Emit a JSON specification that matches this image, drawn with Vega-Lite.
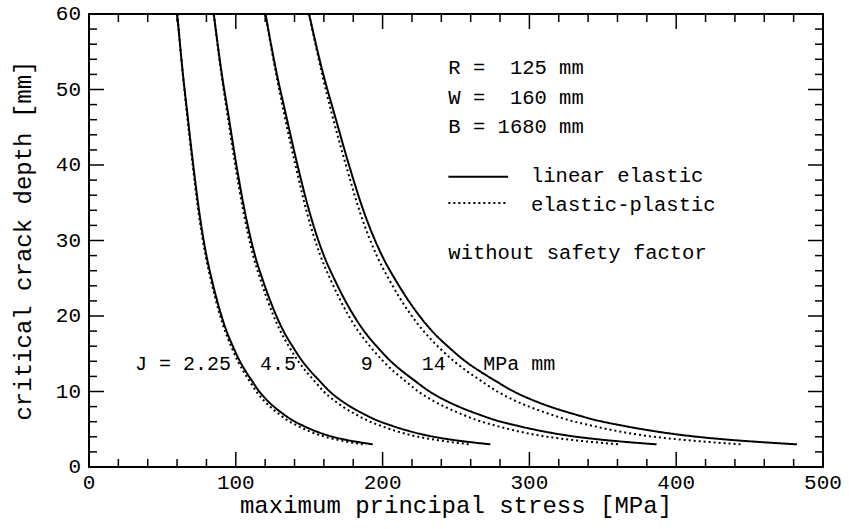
{
"$schema":"https://vega.github.io/schema/vega-lite/v6.json",
"width":734,"height":453,
"autosize":{"type":"none"},
"padding":{"left":89,"top":14,"right":26,"bottom":62},
"background":"white",
"config":{"view":{"stroke":"black","strokeWidth":2}},
"datasets":{
"xmajor":[{"v":0},{"v":100},{"v":200},{"v":300},{"v":400},{"v":500}],
"xminor":[{"v":20},{"v":40},{"v":60},{"v":80},{"v":120},{"v":140},{"v":160},{"v":180},{"v":220},{"v":240},{"v":260},{"v":280},{"v":320},{"v":340},{"v":360},{"v":380},{"v":420},{"v":440},{"v":460},{"v":480}],
"ymajor":[{"v":0},{"v":10},{"v":20},{"v":30},{"v":40},{"v":50},{"v":60}],
"yminor":[{"v":2},{"v":4},{"v":6},{"v":8},{"v":12},{"v":14},{"v":16},{"v":18},{"v":22},{"v":24},{"v":26},{"v":28},{"v":32},{"v":34},{"v":36},{"v":38},{"v":42},{"v":44},{"v":46},{"v":48},{"v":52},{"v":54},{"v":56},{"v":58}],
"curves":[
{"J":"2.25","model":"linear","stress":60.1,"depth":60},{"J":"2.25","model":"linear","stress":64,"depth":52},{"J":"2.25","model":"linear","stress":67,"depth":46.8},{"J":"2.25","model":"linear","stress":71,"depth":40},{"J":"2.25","model":"linear","stress":75.3,"depth":33.5},{"J":"2.25","model":"linear","stress":80,"depth":28},{"J":"2.25","model":"linear","stress":83.8,"depth":24.7},{"J":"2.25","model":"linear","stress":89.8,"depth":20.3},{"J":"2.25","model":"linear","stress":93.7,"depth":18},{"J":"2.25","model":"linear","stress":98.2,"depth":15.9},{"J":"2.25","model":"linear","stress":102.8,"depth":14},{"J":"2.25","model":"linear","stress":107,"depth":12.6},{"J":"2.25","model":"linear","stress":110.7,"depth":11.5},{"J":"2.25","model":"linear","stress":116,"depth":10},{"J":"2.25","model":"linear","stress":122,"depth":8.7},{"J":"2.25","model":"linear","stress":126.5,"depth":7.9},{"J":"2.25","model":"linear","stress":132.5,"depth":7},{"J":"2.25","model":"linear","stress":138.5,"depth":6.2},{"J":"2.25","model":"linear","stress":145.5,"depth":5.5},{"J":"2.25","model":"linear","stress":155,"depth":4.7},{"J":"2.25","model":"linear","stress":162.5,"depth":4.2},{"J":"2.25","model":"linear","stress":175,"depth":3.6},{"J":"2.25","model":"linear","stress":183.5,"depth":3.3},{"J":"2.25","model":"linear","stress":193.3,"depth":3.0},
{"J":"2.25","model":"plastic","stress":60.1,"depth":60},{"J":"2.25","model":"plastic","stress":63.9,"depth":52},{"J":"2.25","model":"plastic","stress":66.7,"depth":46.8},{"J":"2.25","model":"plastic","stress":70.6,"depth":40},{"J":"2.25","model":"plastic","stress":74.8,"depth":33.5},{"J":"2.25","model":"plastic","stress":79.4,"depth":28},{"J":"2.25","model":"plastic","stress":83.1,"depth":24.7},{"J":"2.25","model":"plastic","stress":88.9,"depth":20.3},{"J":"2.25","model":"plastic","stress":92.7,"depth":18},{"J":"2.25","model":"plastic","stress":97,"depth":15.9},{"J":"2.25","model":"plastic","stress":101.4,"depth":14},{"J":"2.25","model":"plastic","stress":105.4,"depth":12.6},{"J":"2.25","model":"plastic","stress":109,"depth":11.5},{"J":"2.25","model":"plastic","stress":114,"depth":10},{"J":"2.25","model":"plastic","stress":119.6,"depth":8.7},{"J":"2.25","model":"plastic","stress":123.9,"depth":7.9},{"J":"2.25","model":"plastic","stress":129.5,"depth":7},{"J":"2.25","model":"plastic","stress":135.1,"depth":6.2},{"J":"2.25","model":"plastic","stress":141.7,"depth":5.5},{"J":"2.25","model":"plastic","stress":150.5,"depth":4.7},{"J":"2.25","model":"plastic","stress":157.5,"depth":4.2},{"J":"2.25","model":"plastic","stress":169.3,"depth":3.6},{"J":"2.25","model":"plastic","stress":177.2,"depth":3.3},{"J":"2.25","model":"plastic","stress":186.5,"depth":3.0},
{"J":"4.5","model":"linear","stress":85,"depth":60},{"J":"4.5","model":"linear","stress":90.5,"depth":52},{"J":"4.5","model":"linear","stress":94.8,"depth":46.8},{"J":"4.5","model":"linear","stress":100.4,"depth":40},{"J":"4.5","model":"linear","stress":106.5,"depth":33.5},{"J":"4.5","model":"linear","stress":113.1,"depth":28},{"J":"4.5","model":"linear","stress":118.5,"depth":24.7},{"J":"4.5","model":"linear","stress":127,"depth":20.3},{"J":"4.5","model":"linear","stress":132.5,"depth":18},{"J":"4.5","model":"linear","stress":138.9,"depth":15.9},{"J":"4.5","model":"linear","stress":145.4,"depth":14},{"J":"4.5","model":"linear","stress":151.3,"depth":12.6},{"J":"4.5","model":"linear","stress":156.6,"depth":11.5},{"J":"4.5","model":"linear","stress":164,"depth":10},{"J":"4.5","model":"linear","stress":172.5,"depth":8.7},{"J":"4.5","model":"linear","stress":178.9,"depth":7.9},{"J":"4.5","model":"linear","stress":187.4,"depth":7},{"J":"4.5","model":"linear","stress":195.9,"depth":6.2},{"J":"4.5","model":"linear","stress":205.8,"depth":5.5},{"J":"4.5","model":"linear","stress":219.2,"depth":4.7},{"J":"4.5","model":"linear","stress":229.8,"depth":4.2},{"J":"4.5","model":"linear","stress":247.5,"depth":3.6},{"J":"4.5","model":"linear","stress":259.5,"depth":3.3},{"J":"4.5","model":"linear","stress":273.4,"depth":3.0},
{"J":"4.5","model":"plastic","stress":85,"depth":60},{"J":"4.5","model":"plastic","stress":90.2,"depth":52},{"J":"4.5","model":"plastic","stress":94.2,"depth":46.8},{"J":"4.5","model":"plastic","stress":99.6,"depth":40},{"J":"4.5","model":"plastic","stress":105.5,"depth":33.5},{"J":"4.5","model":"plastic","stress":111.8,"depth":28},{"J":"4.5","model":"plastic","stress":117,"depth":24.7},{"J":"4.5","model":"plastic","stress":125.1,"depth":20.3},{"J":"4.5","model":"plastic","stress":130.4,"depth":18},{"J":"4.5","model":"plastic","stress":136.4,"depth":15.9},{"J":"4.5","model":"plastic","stress":142.6,"depth":14},{"J":"4.5","model":"plastic","stress":148.1,"depth":12.6},{"J":"4.5","model":"plastic","stress":153.1,"depth":11.5},{"J":"4.5","model":"plastic","stress":159.9,"depth":10},{"J":"4.5","model":"plastic","stress":167.8,"depth":8.7},{"J":"4.5","model":"plastic","stress":173.6,"depth":7.9},{"J":"4.5","model":"plastic","stress":181.4,"depth":7},{"J":"4.5","model":"plastic","stress":189.1,"depth":6.2},{"J":"4.5","model":"plastic","stress":198.2,"depth":5.5},{"J":"4.5","model":"plastic","stress":210.1,"depth":4.7},{"J":"4.5","model":"plastic","stress":219.7,"depth":4.2},{"J":"4.5","model":"plastic","stress":235.9,"depth":3.6},{"J":"4.5","model":"plastic","stress":246.9,"depth":3.3},{"J":"4.5","model":"plastic","stress":259.8,"depth":3.0},
{"J":"9","model":"linear","stress":120.2,"depth":60},{"J":"9","model":"linear","stress":128,"depth":52},{"J":"9","model":"linear","stress":134,"depth":46.8},{"J":"9","model":"linear","stress":142,"depth":40},{"J":"9","model":"linear","stress":150.6,"depth":33.5},{"J":"9","model":"linear","stress":160,"depth":28},{"J":"9","model":"linear","stress":167.6,"depth":24.7},{"J":"9","model":"linear","stress":179.6,"depth":20.3},{"J":"9","model":"linear","stress":187.4,"depth":18},{"J":"9","model":"linear","stress":196.4,"depth":15.9},{"J":"9","model":"linear","stress":205.6,"depth":14},{"J":"9","model":"linear","stress":214,"depth":12.6},{"J":"9","model":"linear","stress":221.4,"depth":11.5},{"J":"9","model":"linear","stress":232,"depth":10},{"J":"9","model":"linear","stress":244,"depth":8.7},{"J":"9","model":"linear","stress":253,"depth":7.9},{"J":"9","model":"linear","stress":265,"depth":7},{"J":"9","model":"linear","stress":277,"depth":6.2},{"J":"9","model":"linear","stress":291,"depth":5.5},{"J":"9","model":"linear","stress":310,"depth":4.7},{"J":"9","model":"linear","stress":325,"depth":4.2},{"J":"9","model":"linear","stress":350,"depth":3.6},{"J":"9","model":"linear","stress":367,"depth":3.3},{"J":"9","model":"linear","stress":386.6,"depth":3.0},
{"J":"9","model":"plastic","stress":120.2,"depth":60},{"J":"9","model":"plastic","stress":127.5,"depth":52},{"J":"9","model":"plastic","stress":132.9,"depth":46.8},{"J":"9","model":"plastic","stress":140.6,"depth":40},{"J":"9","model":"plastic","stress":148.7,"depth":33.5},{"J":"9","model":"plastic","stress":157.6,"depth":28},{"J":"9","model":"plastic","stress":164.8,"depth":24.7},{"J":"9","model":"plastic","stress":176.1,"depth":20.3},{"J":"9","model":"plastic","stress":183.4,"depth":18},{"J":"9","model":"plastic","stress":191.8,"depth":15.9},{"J":"9","model":"plastic","stress":200.4,"depth":14},{"J":"9","model":"plastic","stress":208,"depth":12.6},{"J":"9","model":"plastic","stress":214.8,"depth":11.5},{"J":"9","model":"plastic","stress":224.3,"depth":10},{"J":"9","model":"plastic","stress":235.1,"depth":8.7},{"J":"9","model":"plastic","stress":243.2,"depth":7.9},{"J":"9","model":"plastic","stress":253.8,"depth":7},{"J":"9","model":"plastic","stress":264.4,"depth":6.2},{"J":"9","model":"plastic","stress":276.7,"depth":5.5},{"J":"9","model":"plastic","stress":293,"depth":4.7},{"J":"9","model":"plastic","stress":306,"depth":4.2},{"J":"9","model":"plastic","stress":328.4,"depth":3.6},{"J":"9","model":"plastic","stress":343.4,"depth":3.3},{"J":"9","model":"plastic","stress":361.1,"depth":3.0},
{"J":"14","model":"linear","stress":149.9,"depth":60},{"J":"14","model":"linear","stress":159.6,"depth":52},{"J":"14","model":"linear","stress":167.1,"depth":46.8},{"J":"14","model":"linear","stress":177.1,"depth":40},{"J":"14","model":"linear","stress":187.8,"depth":33.5},{"J":"14","model":"linear","stress":199.6,"depth":28},{"J":"14","model":"linear","stress":209,"depth":24.7},{"J":"14","model":"linear","stress":224,"depth":20.3},{"J":"14","model":"linear","stress":233.7,"depth":18},{"J":"14","model":"linear","stress":244.9,"depth":15.9},{"J":"14","model":"linear","stress":256.4,"depth":14},{"J":"14","model":"linear","stress":266.9,"depth":12.6},{"J":"14","model":"linear","stress":276.1,"depth":11.5},{"J":"14","model":"linear","stress":289.4,"depth":10},{"J":"14","model":"linear","stress":304.3,"depth":8.7},{"J":"14","model":"linear","stress":315.5,"depth":7.9},{"J":"14","model":"linear","stress":330.5,"depth":7},{"J":"14","model":"linear","stress":345.5,"depth":6.2},{"J":"14","model":"linear","stress":362.9,"depth":5.5},{"J":"14","model":"linear","stress":386.6,"depth":4.7},{"J":"14","model":"linear","stress":405.3,"depth":4.2},{"J":"14","model":"linear","stress":436.5,"depth":3.6},{"J":"14","model":"linear","stress":457.7,"depth":3.3},{"J":"14","model":"linear","stress":482.2,"depth":3.0},
{"J":"14","model":"plastic","stress":149.9,"depth":60},{"J":"14","model":"plastic","stress":158.8,"depth":52},{"J":"14","model":"plastic","stress":165.4,"depth":46.8},{"J":"14","model":"plastic","stress":175,"depth":40},{"J":"14","model":"plastic","stress":185,"depth":33.5},{"J":"14","model":"plastic","stress":196,"depth":28},{"J":"14","model":"plastic","stress":204.8,"depth":24.7},{"J":"14","model":"plastic","stress":218.8,"depth":20.3},{"J":"14","model":"plastic","stress":227.9,"depth":18},{"J":"14","model":"plastic","stress":238,"depth":15.9},{"J":"14","model":"plastic","stress":248.7,"depth":14},{"J":"14","model":"plastic","stress":258.1,"depth":12.6},{"J":"14","model":"plastic","stress":266.4,"depth":11.5},{"J":"14","model":"plastic","stress":278.1,"depth":10},{"J":"14","model":"plastic","stress":291.2,"depth":8.7},{"J":"14","model":"plastic","stress":301,"depth":7.9},{"J":"14","model":"plastic","stress":314,"depth":7},{"J":"14","model":"plastic","stress":326.9,"depth":6.2},{"J":"14","model":"plastic","stress":341.9,"depth":5.5},{"J":"14","model":"plastic","stress":361.5,"depth":4.7},{"J":"14","model":"plastic","stress":377.3,"depth":4.2},{"J":"14","model":"plastic","stress":404.6,"depth":3.6},{"J":"14","model":"plastic","stress":422.9,"depth":3.3},{"J":"14","model":"plastic","stress":444.6,"depth":3.0}
]},
"layer":[
{"data":{"name":"curves"},
 "mark":{"type":"line","interpolate":"monotone","strokeWidth":2,"color":"black"},
 "encoding":{
  "x":{"field":"stress","type":"quantitative","scale":{"domain":[0,500],"nice":false,"zero":false},"axis":null},
  "y":{"field":"depth","type":"quantitative","scale":{"domain":[0,60],"nice":false},"axis":null},
  "detail":{"field":"J","type":"nominal"},
  "strokeDash":{"field":"model","type":"nominal","scale":{"domain":["linear","plastic"],"range":[[1,0],[2,3]]},"legend":null}
 }},
{"data":{"name":"xmajor"},"mark":{"type":"rule","strokeWidth":1.5,"color":"black"},
 "encoding":{"x":{"field":"v","type":"quantitative","axis":null},"y":{"datum":0,"type":"quantitative","axis":null},"y2":{"datum":1.987}}},
{"data":{"name":"xmajor"},"mark":{"type":"rule","strokeWidth":1.5,"color":"black"},
 "encoding":{"x":{"field":"v","type":"quantitative","axis":null},"y":{"datum":60,"type":"quantitative","axis":null},"y2":{"datum":58.013}}},
{"data":{"name":"xminor"},"mark":{"type":"rule","strokeWidth":1.5,"color":"black"},
 "encoding":{"x":{"field":"v","type":"quantitative","axis":null},"y":{"datum":0,"type":"quantitative","axis":null},"y2":{"datum":1.06}}},
{"data":{"name":"xminor"},"mark":{"type":"rule","strokeWidth":1.5,"color":"black"},
 "encoding":{"x":{"field":"v","type":"quantitative","axis":null},"y":{"datum":60,"type":"quantitative","axis":null},"y2":{"datum":58.94}}},
{"data":{"name":"ymajor"},"mark":{"type":"rule","strokeWidth":1.5,"color":"black"},
 "encoding":{"y":{"field":"v","type":"quantitative","axis":null},"x":{"datum":0,"type":"quantitative","axis":null},"x2":{"datum":10.22}}},
{"data":{"name":"ymajor"},"mark":{"type":"rule","strokeWidth":1.5,"color":"black"},
 "encoding":{"y":{"field":"v","type":"quantitative","axis":null},"x":{"datum":500,"type":"quantitative","axis":null},"x2":{"datum":489.78}}},
{"data":{"name":"yminor"},"mark":{"type":"rule","strokeWidth":1.5,"color":"black"},
 "encoding":{"y":{"field":"v","type":"quantitative","axis":null},"x":{"datum":0,"type":"quantitative","axis":null},"x2":{"datum":5.45}}},
{"data":{"name":"yminor"},"mark":{"type":"rule","strokeWidth":1.5,"color":"black"},
 "encoding":{"y":{"field":"v","type":"quantitative","axis":null},"x":{"datum":500,"type":"quantitative","axis":null},"x2":{"datum":494.55}}},
{"data":{"name":"xmajor"},
 "mark":{"type":"text","align":"center","baseline":"top","dy":5,"font":"Liberation Mono","fontSize":21,"color":"black"},
 "encoding":{"x":{"field":"v","type":"quantitative","axis":null},"y":{"datum":0,"type":"quantitative","axis":null},"text":{"field":"v","type":"quantitative","format":"d"}}},
{"data":{"name":"ymajor"},
 "mark":{"type":"text","align":"right","baseline":"middle","dx":-8,"font":"Liberation Mono","fontSize":21,"color":"black"},
 "encoding":{"y":{"field":"v","type":"quantitative","axis":null},"x":{"datum":0,"type":"quantitative","axis":null},"text":{"field":"v","type":"quantitative","format":"d"}}},
{"data":{"values":[{}]},
 "mark":{"type":"text","align":"center","baseline":"alphabetic","dy":46,"font":"Liberation Mono","fontSize":24,"color":"black"},
 "encoding":{"x":{"datum":250,"type":"quantitative","axis":null},"y":{"datum":0,"type":"quantitative","axis":null},"text":{"value":"maximum principal stress [MPa]"}}},
{"data":{"values":[{}]},
 "mark":{"type":"text","align":"center","baseline":"alphabetic","angle":270,"dy":-58,"font":"Liberation Mono","fontSize":24,"color":"black"},
 "encoding":{"x":{"datum":0,"type":"quantitative","axis":null},"y":{"datum":30,"type":"quantitative","axis":null},"text":{"value":"critical crack depth [mm]"}}},
{"data":{"values":[{}]},"mark":{"type":"text","align":"left","baseline":"middle","font":"Liberation Mono","fontSize":20.5,"color":"black"},
 "encoding":{"x":{"datum":244.8,"type":"quantitative","axis":null},"y":{"datum":52.85,"type":"quantitative","axis":null},"text":{"value":"R =\u00a0\u00a0125 mm"}}},
{"data":{"values":[{}]},"mark":{"type":"text","align":"left","baseline":"middle","font":"Liberation Mono","fontSize":20.5,"color":"black"},
 "encoding":{"x":{"datum":244.8,"type":"quantitative","axis":null},"y":{"datum":48.9,"type":"quantitative","axis":null},"text":{"value":"W =\u00a0\u00a0160 mm"}}},
{"data":{"values":[{}]},"mark":{"type":"text","align":"left","baseline":"middle","font":"Liberation Mono","fontSize":20.5,"color":"black"},
 "encoding":{"x":{"datum":244.8,"type":"quantitative","axis":null},"y":{"datum":45.0,"type":"quantitative","axis":null},"text":{"value":"B = 1680 mm"}}},
{"data":{"values":[{}]},"mark":{"type":"text","align":"left","baseline":"middle","font":"Liberation Mono","fontSize":20.5,"color":"black"},
 "encoding":{"x":{"datum":301.1,"type":"quantitative","axis":null},"y":{"datum":38.5,"type":"quantitative","axis":null},"text":{"value":"linear elastic"}}},
{"data":{"values":[{}]},"mark":{"type":"text","align":"left","baseline":"middle","font":"Liberation Mono","fontSize":20.5,"color":"black"},
 "encoding":{"x":{"datum":301.1,"type":"quantitative","axis":null},"y":{"datum":34.7,"type":"quantitative","axis":null},"text":{"value":"elastic-plastic"}}},
{"data":{"values":[{}]},"mark":{"type":"text","align":"left","baseline":"middle","font":"Liberation Mono","fontSize":20.5,"color":"black"},
 "encoding":{"x":{"datum":244.8,"type":"quantitative","axis":null},"y":{"datum":28.3,"type":"quantitative","axis":null},"text":{"value":"without safety factor"}}},
{"data":{"values":[{}]},"mark":{"type":"rule","strokeWidth":2,"color":"black"},
 "encoding":{"x":{"datum":244.8,"type":"quantitative","axis":null},"x2":{"datum":285.5},"y":{"datum":38.45,"type":"quantitative","axis":null}}},
{"data":{"values":[{}]},"mark":{"type":"rule","strokeWidth":2,"color":"black","strokeDash":[2,3]},
 "encoding":{"x":{"datum":244.8,"type":"quantitative","axis":null},"x2":{"datum":285.5},"y":{"datum":34.97,"type":"quantitative","axis":null}}},
{"data":{"values":[{}]},"mark":{"type":"text","align":"left","baseline":"middle","font":"Liberation Mono","fontSize":20,"color":"black"},
 "encoding":{"x":{"datum":31.3,"type":"quantitative","axis":null},"y":{"datum":13.7,"type":"quantitative","axis":null},"text":{"value":"J = 2.25"}}},
{"data":{"values":[{}]},"mark":{"type":"text","align":"left","baseline":"middle","font":"Liberation Mono","fontSize":20,"color":"black"},
 "encoding":{"x":{"datum":116.5,"type":"quantitative","axis":null},"y":{"datum":13.7,"type":"quantitative","axis":null},"text":{"value":"4.5"}}},
{"data":{"values":[{}]},"mark":{"type":"text","align":"left","baseline":"middle","font":"Liberation Mono","fontSize":20,"color":"black"},
 "encoding":{"x":{"datum":185.1,"type":"quantitative","axis":null},"y":{"datum":13.7,"type":"quantitative","axis":null},"text":{"value":"9"}}},
{"data":{"values":[{}]},"mark":{"type":"text","align":"left","baseline":"middle","font":"Liberation Mono","fontSize":20,"color":"black"},
 "encoding":{"x":{"datum":226.6,"type":"quantitative","axis":null},"y":{"datum":13.7,"type":"quantitative","axis":null},"text":{"value":"14"}}},
{"data":{"values":[{}]},"mark":{"type":"text","align":"left","baseline":"middle","font":"Liberation Mono","fontSize":20,"color":"black"},
 "encoding":{"x":{"datum":268.6,"type":"quantitative","axis":null},"y":{"datum":13.7,"type":"quantitative","axis":null},"text":{"value":"MPa mm"}}}
]
}
